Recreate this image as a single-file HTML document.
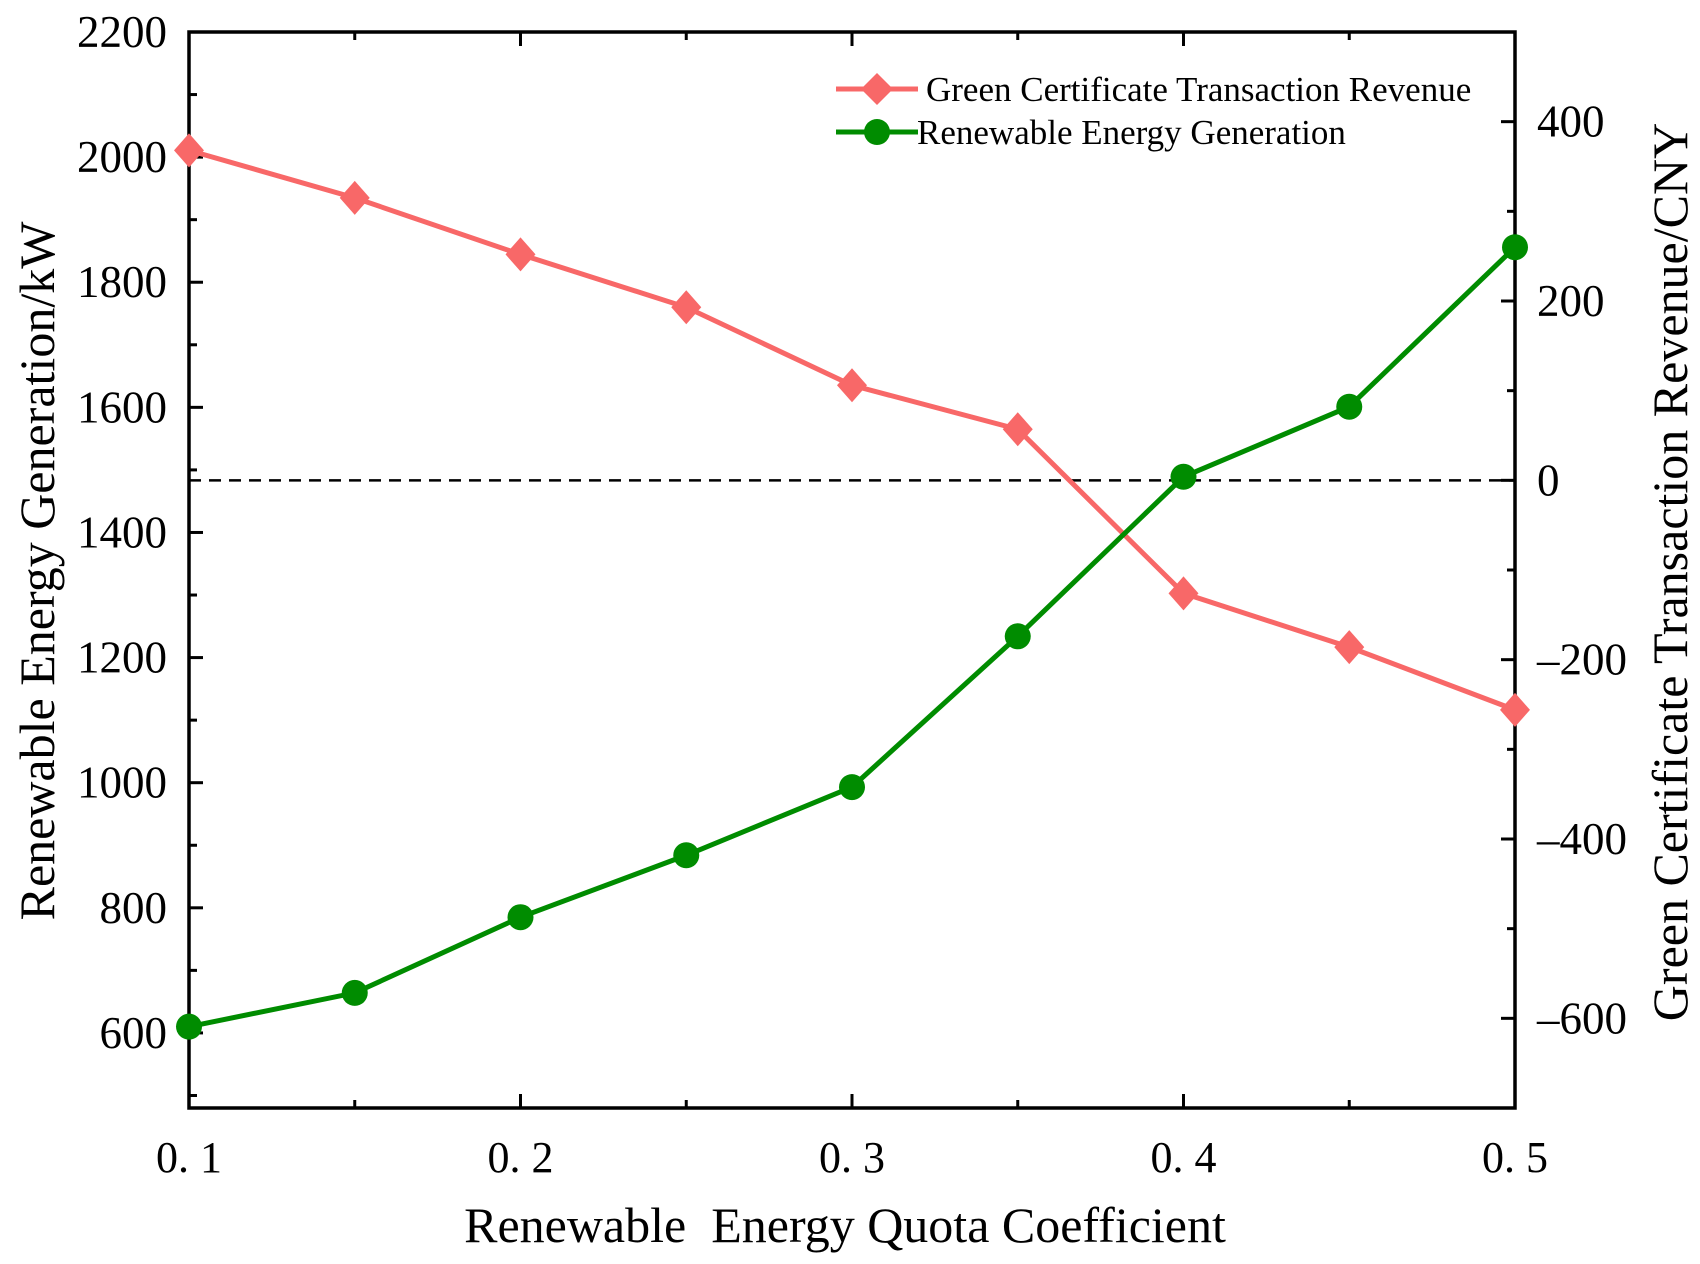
<!DOCTYPE html>
<html><head><meta charset="utf-8"><style>
html,body{margin:0;padding:0;background:#fff;}
svg{display:block;font-family:"Liberation Serif",serif;}
</style></head><body>
<svg id="chart" width="1700" height="1264" viewBox="0 0 1700 1264"></svg>
<script>
const xValues=[0.1,0.15,0.2,0.25,0.3,0.35,0.4,0.45,0.5];
const revenueValues=[368,315,252,193,106,57,-126,-186,-256];
const generationValues=[610,664,785,884,993,1234,1489,1601,1856];
const xTickLabels=["0. 1","0. 2","0. 3","0. 4","0. 5"];
const xTickValues=[0.1,0.2,0.3,0.4,0.5];
const leftTickValues=[600,800,1000,1200,1400,1600,1800,2000,2200];
const rightTickValues=[-600,-400,-200,0,200,400];

const L=189,R=1515,T=32,B=1108;
const sx=v=>L+(v-0.1)/(0.4)*(R-L);
const syL=v=>T+(2200-v)/(2200-480)*(B-T);
const syR=v=>T+(500-v)/(1200)*(B-T);
const NS="http://www.w3.org/2000/svg";
const svg=document.getElementById('chart');
function mk(tag,attrs,parent){const e=document.createElementNS(NS,tag);for(const k in attrs)e.setAttribute(k,attrs[k]);(parent||svg).appendChild(e);return e;}

const zl=mk('line',{x1:L,x2:R,y1:syR(0),y2:syR(0),stroke:'#000','stroke-width':2.5,'stroke-dasharray':'12,8'});



const tg=mk('g',{stroke:'#000','stroke-width':3});


for(let v=500;v<=2200;v+=100){const y=syL(v);const len=(v%200===0)?14:8;mk('line',{x1:L,x2:L+len,y1:y,y2:y},tg);}
for(let v=-700;v<=500;v+=100){const y=syR(v);const len=(v%200===0)?14:8;mk('line',{x1:R,x2:R-len,y1:y,y2:y},tg);}
for(let i=0;i<=8;i++){const v=0.1+i*0.05;const x=sx(v);const len=(i%2===0)?14:8;mk('line',{x1:x,x2:x,y1:B,y2:B-len},tg);mk('line',{x1:x,x2:x,y1:T,y2:T+len},tg);}

const fr=mk('rect',{x:L,y:T,width:R-L,height:B-T,fill:'none',stroke:'#000','stroke-width':3.5});



leftTickValues.forEach(v=>{const t=mk('text',{x:L-22,y:syL(v)+15,'text-anchor':'end','font-size':45});t.textContent=v;

});
rightTickValues.forEach(v=>{const t=mk('text',{x:R+22,y:syR(v)+15,'text-anchor':'start','font-size':45});t.textContent=(v<0?'\u2013':'')+Math.abs(v);

});
xTickValues.forEach((v,i)=>{const t=mk('text',{x:sx(v),y:1172,'text-anchor':'middle','font-size':44});t.textContent=xTickLabels[i];

});

const xt=mk('text',{x:845,y:1242,'text-anchor':'middle','font-size':50});xt.textContent='Renewable  Energy Quota Coefficient';xt.style.whiteSpace='pre';


const yl=mk('text',{x:0,y:0,'text-anchor':'middle','font-size':50,transform:'translate(54,571) rotate(-90)'});yl.textContent='Renewable Energy Generation/kW';


const yr=mk('text',{x:0,y:0,'text-anchor':'middle','font-size':50,transform:'translate(1687,572) rotate(-90)'});yr.textContent='Green Certificate Transaction Revenue/CNY';



const RED='#f86868',GREEN='#008c00';
const rp=mk('polyline',{points:xValues.map((x,i)=>sx(x)+','+syR(revenueValues[i])).join(' '),fill:'none',stroke:RED,'stroke-width':5});


xValues.forEach((x,i)=>{const cx=sx(x),cy=syR(revenueValues[i]);const d=mk('polygon',{points:`${cx},${cy-17} ${cx+15},${cy} ${cx},${cy+17} ${cx-15},${cy}`,fill:RED});

});
const gp=mk('polyline',{points:xValues.map((x,i)=>sx(x)+','+syL(generationValues[i])).join(' '),fill:'none',stroke:GREEN,'stroke-width':5});


xValues.forEach((x,i)=>{const c=mk('circle',{cx:sx(x),cy:syL(generationValues[i]),r:13,fill:GREEN});

});

const lg=mk('g',{});


mk('line',{x1:836,x2:918,y1:89,y2:89,stroke:RED,'stroke-width':5},lg);
mk('polygon',{points:'877,73 893,89 877,105 861,89',fill:RED},lg);
const t1=mk('text',{x:926,y:101,'font-size':35},lg);t1.textContent='Green Certificate Transaction Revenue';


mk('line',{x1:836,x2:918,y1:132,y2:132,stroke:GREEN,'stroke-width':5},lg);
mk('circle',{cx:877,cy:132,r:13,fill:GREEN},lg);
const t2=mk('text',{x:917,y:144,'font-size':35},lg);t2.textContent='Renewable Energy Generation';


</script>
</body></html>
